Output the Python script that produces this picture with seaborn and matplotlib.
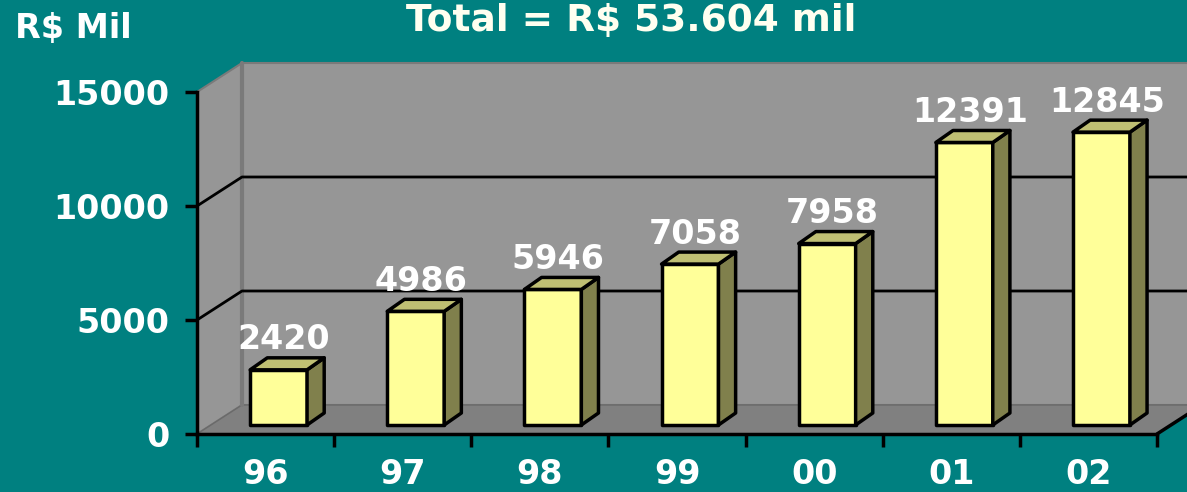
import numpy as np
import matplotlib
matplotlib.use('Agg')
import matplotlib.pyplot as plt
import seaborn as sns
from matplotlib.patches import Polygon

anos = ['96', '97', '98', '99', '00', '01', '02']
valores = [2420, 4986, 5946, 7058, 7958, 12391, 12845]
yticks = [0, 5000, 10000, 15000]
titulo = 'Total = R$ 53.604 mil'
unidade = 'R$ Mil'

sns.set_theme(style='white')
plt.rcParams['font.family'] = ['DejaVu Sans']

fundo = '#008080'
parede = '#969696'
piso = '#808080'
frente = '#FFFF99'
lado = '#80804C'
topo = '#BFBF73'

fig = plt.figure(figsize=(11.87, 4.92), dpi=100, facecolor=fundo)
ax = fig.add_axes([197 / 1187, (492 - 434) / 492, 960 / 1187, 342 / 492])
ax.set_facecolor('none')

# profundidade do "3D"
dx, dy = 0.328, 1272        # paredes
fx, fy = 0.095, 395         # deslocamento da face frontal das barras
bdx, bdy = 0.125, 526       # profundidade das barras

sns.barplot(x=anos, y=valores, order=anos, color=frente, width=0.415,
            edgecolor='black', linewidth=2.5, saturation=1, ax=ax, zorder=3)
barras = list(ax.patches)

# paredes e piso
x0, x1 = -0.5, 6.5
ax.add_patch(Polygon([(x0 + dx, dy), (x1 + dx, dy), (x1 + dx, 15000 + dy), (x0 + dx, 15000 + dy)],
                     facecolor=parede, edgecolor='#7a7a7a', lw=1.5, clip_on=False, zorder=0))
ax.add_patch(Polygon([(x0, 0), (x0 + dx, dy), (x0 + dx, 15000 + dy), (x0, 15000)],
                     facecolor=parede, edgecolor='#7a7a7a', lw=1.5, clip_on=False, zorder=0))
ax.add_patch(Polygon([(x0, 0), (x1, 0), (x1 + dx, dy), (x0 + dx, dy)],
                     facecolor=piso, edgecolor='#6a6a6a', lw=1, clip_on=False, zorder=0.5))
ax.plot([x0 + dx, x0 + dx], [dy, 15000 + dy], color='#7a7a7a', lw=3, clip_on=False, zorder=0.6)
for v in yticks[1:-1]:
    ax.plot([x0, x0 + dx, x1 + dx], [v, v + dy, v + dy], color='black', lw=2, clip_on=False, zorder=1)
ax.plot([x1, x1 + dx], [0, dy], color='black', lw=2.5, clip_on=False, zorder=1)

# barras em 3D
for p, v in zip(barras, valores):
    bx = p.get_x() + fx
    w = p.get_width()
    h = p.get_height()
    p.set_x(bx)
    p.set_y(fy)
    p.set_joinstyle('round')
    ax.add_patch(Polygon([(bx + w, fy), (bx + w, fy + h), (bx + w + bdx, fy + h + bdy), (bx + w + bdx, fy + bdy)],
                         facecolor=lado, edgecolor='black', lw=2.5, joinstyle='round', zorder=3, clip_on=False))
    ax.add_patch(Polygon([(bx, fy + h), (bx + w, fy + h), (bx + w + bdx, fy + h + bdy), (bx + bdx, fy + h + bdy)],
                         facecolor=topo, edgecolor='black', lw=2.5, joinstyle='round', zorder=3, clip_on=False))
    ax.annotate(f'{v}', xy=(bx + w / 2 + 0.04, fy + h + bdy), xytext=(0, 6), textcoords='offset points',
                ha='center', va='baseline', fontsize=24, fontweight='bold', color='white', zorder=5)

ax.set_xlim(x0, x1)
ax.set_ylim(0, 15000)
ax.set_xlabel('')
ax.set_ylabel('')
ax.set_yticks(yticks)
ax.set_yticklabels([str(t) for t in yticks])
ax.set_xticks(range(len(anos)))
ax.set_xticklabels(anos)
ax.set_xticks(np.arange(-0.5, 7, 1), minor=True)
ax.tick_params(axis='x', which='major', length=0, pad=17, labelsize=24, labelcolor='white')
ax.tick_params(axis='x', which='minor', bottom=True, length=9, width=2.5, color='black', direction='out')
ax.tick_params(axis='y', left=True, length=9, width=2.5, color='black', direction='out', pad=11,
               labelsize=24, labelcolor='white')
for lbl in ax.get_xticklabels() + ax.get_yticklabels():
    lbl.set_fontweight('bold')

for s in ['top', 'right']:
    ax.spines[s].set_visible(False)
for s in ['left', 'bottom']:
    ax.spines[s].set_color('black')
    ax.spines[s].set_linewidth(2.5)

fig.text(631 / 1187, 1 - 31 / 492, titulo, ha='center', va='baseline', fontsize=27,
         fontweight='bold', color='#FFFFF0')
fig.text(15 / 1187, 1 - 38 / 492, unidade, ha='left', va='baseline', fontsize=24,
         fontweight='bold', color='white')

fig.savefig('out.png', dpi=100, facecolor=fig.get_facecolor())
